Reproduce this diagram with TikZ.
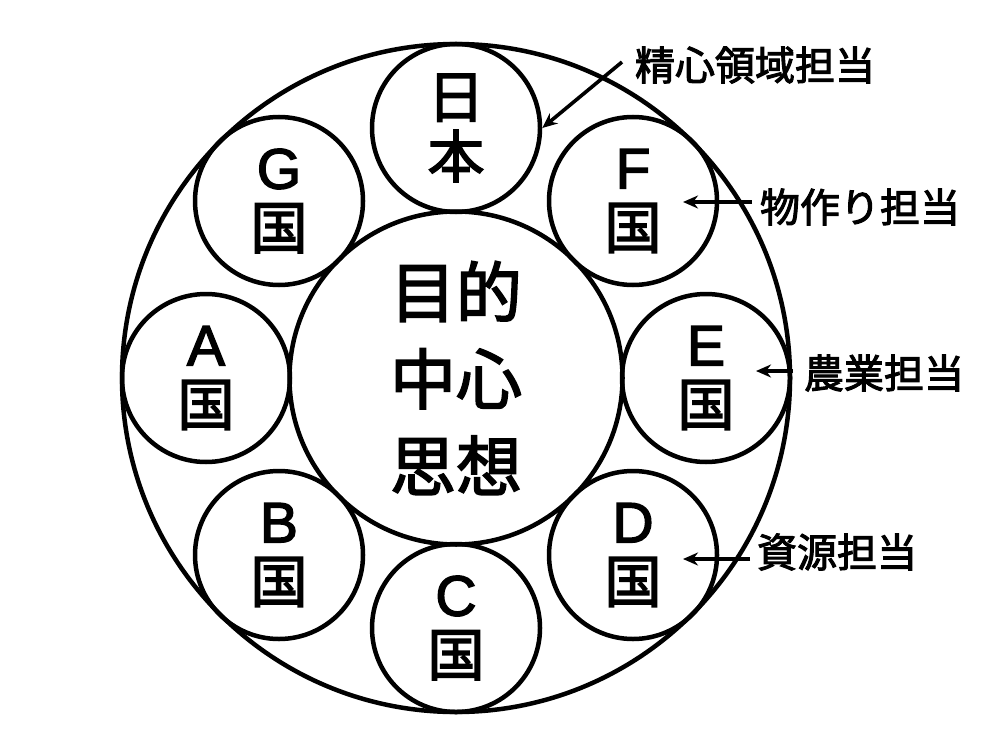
\documentclass[tikz,border=0pt]{standalone}
\usepackage{fontspec}
\newfontfamily\cjk[FakeBold=2.5]{Noto Sans CJK JP}
\newfontfamily\lat[FakeBold=2.5]{Liberation Sans}
\usetikzlibrary{arrows.meta}
\tikzset{
  ring/.style={draw, circle, line width=4.5pt, inner sep=0pt},
  country/.style={ring, minimum size=168pt, align=center,
    font=\cjk\fontsize{57}{60}\selectfont},
  centre/.style={ring, minimum size=333pt, align=center,
    font=\cjk\fontsize{66}{87}\selectfont},
  outer/.style={ring, minimum size=668pt},
  role/.style={inner sep=0pt, font=\cjk\fontsize{40}{44}\selectfont},
  pointer/.style={line width=3.6pt, -{Stealth[length=15pt,width=13pt]}}
}
\begin{document}
\begin{tikzpicture}[x=1pt,y=-1pt]
\useasboundingbox[fill=white] (0,0) rectangle (1000,746);
\node[outer] (outer) at (456,378) {};
\node[centre] (mid) at (456,378) {目的\\中心\\思想};
\node[country] (nihon) at (456,128) {日\\本};
\node[country] (f) at (633,201) {{\lat F}\\国};
\node[country] (e) at (706,378) {{\lat E}\\国};
\node[country] (d) at (633,555) {{\lat D}\\国};
\node[country] (c) at (456,628) {{\lat C}\\国};
\node[country] (b) at (279,555) {{\lat B}\\国};
\node[country] (a) at (206,378) {{\lat A}\\国};
\node[country] (g) at (279,201) {{\lat G}\\国};
\node[role] (l1) at (755,65) {精心領域担当};
\node[role] (l2) at (860,207) {物作り担当};
\node[role] (l3) at (884,373) {農業担当};
\node[role] (l4) at (837,552) {資源担当};
\coordinate (s1) at (622,62);
\coordinate (s2) at (752,202);
\coordinate (t2) at (683,202);
\coordinate (s3) at (793,371);
\coordinate (t3) at (756,371);
\coordinate (s4) at (750,559);
\coordinate (t4) at (683,559);
\draw[pointer] (s1) -- (nihon.east);
\draw[pointer] (s2) -- (t2);
\draw[pointer] (s3) -- (t3);
\draw[pointer] (s4) -- (t4);
\end{tikzpicture}
\end{document}
